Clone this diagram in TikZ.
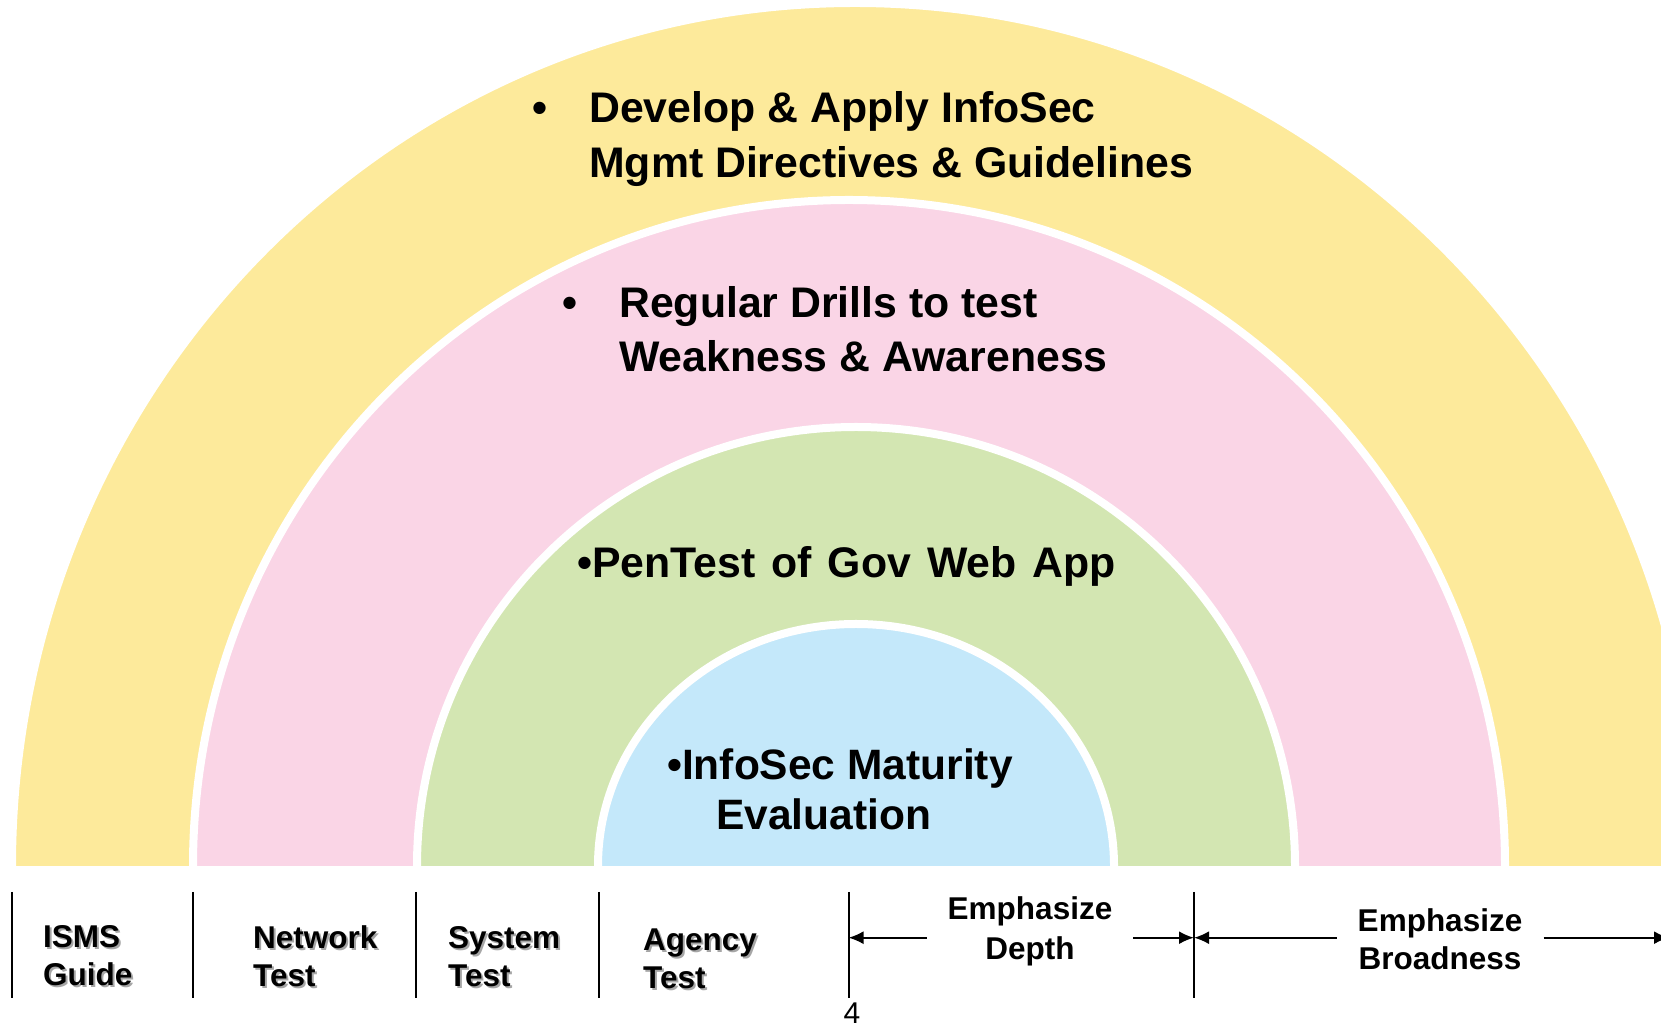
\documentclass[tikz,border=0pt]{standalone}
\usepackage{fontspec}
\setmainfont{Liberation Sans}
\usepackage{xcolor}
\usepackage{tikz}
\usetikzlibrary{arrows.meta}

\definecolor{archyellow}{RGB}{253,234,155}
\definecolor{archpink}{RGB}{250,213,230}
\definecolor{archgreen}{RGB}{211,230,178}
\definecolor{archblue}{RGB}{196,232,250}

% hanging bullet and a soft grey shadow behind a word
\newcommand{\bul}{\llap{•\hspace{41.5pt}}}
\newcommand{\shd}[1]{\makebox[0pt][l]{\hspace{2pt}\raisebox{-2pt}{\color{black!35}#1}}#1}

\begin{document}
\begin{tikzpicture}[x=1pt,y=1pt,
    big/.style={font=\fontsize{42.8}{55}\selectfont\bfseries, align=left, anchor=base west, inner sep=0pt},
    small/.style={font=\fontsize{31.5}{38}\selectfont\bfseries, align=left, anchor=base west, inner sep=0pt},
    sep/.style={line width=2pt},
    arr/.style={line width=2pt, -{Latex[length=15pt,width=13pt]}},
    halo/.style={white, line width=8pt}]

    % Keep the page at the size of the slide
    \useasboundingbox (0,0) rectangle (1661,1027);

    % Draw the four arches, biggest first
    \foreach \c/\cx/\a/\b in {archyellow/855/843/863, archpink/849/656/666,
                              archgreen/856/439/439, archblue/856/258/242} {
        \fill[\c] (\cx-\a,161) arc[start angle=180, end angle=0, x radius=\a, y radius=\b] -- cycle;
        \draw[halo] (\cx-\a,161) arc[start angle=180, end angle=0, x radius=\a, y radius=\b];
    }

    % Text inside the arches (base = last line)
    \node[big] (mgmt) at (589,849) {\bul Develop \& Apply InfoSec\\Mgmt Directives \& Guidelines};
    \node[big, font=\fontsize{42.8}{54}\selectfont\bfseries] (drill) at (619,655) {\bul Regular Drills to test\\Weakness \& Awareness};
    \node[big] (pen) at (577,449) {\spaceskip=16pt\relax •PenTest of Gov Web App};
    \node[big, font=\fontsize{42.5}{50}\selectfont\bfseries] (mat) at (667,197) {•InfoSec Maturity\\\hspace*{49pt}Evaluation};

    % Separator lines under the arches
    \foreach \x [count=\i] in {11.7,192.5,416,598.5,848.5,1194} {
        \coordinate (top\i) at (\x,135);
        \coordinate (mid\i) at (\x,89.3);
        \coordinate (bot\i) at (\x,29);
        \draw[sep] (top\i) -- (bot\i);
    }
    \coordinate (edge) at (1669,89.3);

    % Labels of the columns
    \node[small] (isms) at (43,41) {\shd{ISMS}\\\shd{Guide}};
    \node[small] (net) at (253,40) {\shd{Network}\\\shd{Test}};
    \node[small] (sys) at (448,40) {\shd{System}\\\shd{Test}};
    \node[small] (agc) at (643,38) {\shd{Agency}\\\shd{Test}};
    \node[small, align=center, anchor=base, inner xsep=21pt, font=\fontsize{31.5}{40}\selectfont\bfseries] (dep) at (1030,67) {Emphasize\\Depth};
    \node[small, align=center, anchor=base, inner xsep=21pt] (brd) at (1440,57) {Emphasize\\Broadness};

    % Arrows out to the lines
    \draw[arr] (dep.west |- mid5) -- (mid5);
    \draw[arr] (dep.east |- mid6) -- (mid6);
    \draw[arr] (brd.west |- mid6) -- (mid6);
    \draw[arr] (brd.east |- mid6) -- (edge);

    % Page number
    \node[font=\fontsize{30}{30}\selectfont, anchor=base, inner sep=0pt] (pg) at (852,3) {4};
\end{tikzpicture}
\end{document}
